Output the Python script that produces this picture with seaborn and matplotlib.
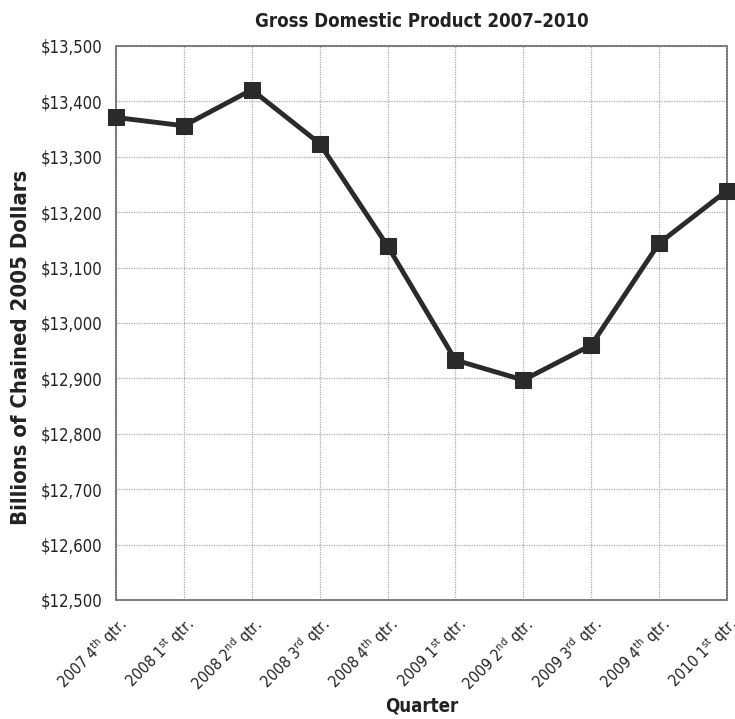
import matplotlib
matplotlib.use("Agg")
import matplotlib.pyplot as plt
from matplotlib import font_manager as fm
from matplotlib import transforms as mtrans
import seaborn as sns
import pandas as pd
from matplotlib.ticker import FuncFormatter

quarters = ["2007 4th", "2008 1st", "2008 2nd", "2008 3rd", "2008 4th",
            "2009 1st", "2009 2nd", "2009 3rd", "2009 4th", "2010 1st"]
gdp = [13371, 13356, 13421, 13324, 13139, 12933, 12897, 12960, 13144, 13239]
tick_labels = [r"2007 4$^{\mathrm{th}}$ qtr.", r"2008 1$^{\mathrm{st}}$ qtr.",
               r"2008 2$^{\mathrm{nd}}$ qtr.", r"2008 3$^{\mathrm{rd}}$ qtr.",
               r"2008 4$^{\mathrm{th}}$ qtr.", r"2009 1$^{\mathrm{st}}$ qtr.",
               r"2009 2$^{\mathrm{nd}}$ qtr.", r"2009 3$^{\mathrm{rd}}$ qtr.",
               r"2009 4$^{\mathrm{th}}$ qtr.", r"2010 1$^{\mathrm{st}}$ qtr."]
y_ticks = list(range(12500, 13501, 100))

sns.set_style("white")

# choose a condensed face if one is installed
names = {f.name for f in fm.fontManager.ttflist}
condensed_dejavu = any(f.name == "DejaVu Sans" and f.stretch == "condensed" for f in fm.fontManager.ttflist)
stretch = "normal"
if "Liberation Sans Narrow" in names:
    fam = "Liberation Sans Narrow"
    size_scale = 1.08
elif condensed_dejavu:
    fam = "DejaVu Sans"
    stretch = "condensed"
    size_scale = 1.0
else:
    fam = "Liberation Sans"
    size_scale = 0.98
plt.rcParams['font.family'] = [fam, 'DejaVu Sans']
plt.rcParams['font.stretch'] = stretch
plt.rcParams['mathtext.fontset'] = 'custom'
plt.rcParams['mathtext.rm'] = fam

df = pd.DataFrame({"idx": range(len(quarters)), "gdp": gdp})

fig = plt.figure(figsize=(7.35, 7.19), dpi=100)
ax = fig.add_axes([116/735, 119/719, (727-116)/735, (600-46)/719])

sns.lineplot(data=df, x="idx", y="gdp", ax=ax, color="#2a2a2a", linewidth=3.5,
             marker="s", markersize=12, markeredgecolor="#2a2a2a", clip_on=False, zorder=5)

ax.set_xlim(0, len(quarters) - 1)
ax.set_ylim(12500, 13500)
ax.set_xticks(range(len(quarters)))
ax.set_xticklabels(tick_labels, rotation=45, ha="right", rotation_mode="anchor",
                   fontsize=11.3 * size_scale)
shift = mtrans.ScaledTranslation(-8 / 100, 0, fig.dpi_scale_trans)
for lab in ax.get_xticklabels():
    lab.set_transform(lab.get_transform() + shift)
ax.set_yticks(y_ticks)
ax.yaxis.set_major_formatter(FuncFormatter(lambda v, p: f"${int(v):,}"))
ax.tick_params(axis="y", labelsize=12 * size_scale, length=0, pad=10, labelcolor="#222222")
ax.tick_params(axis="x", length=0, pad=10, labelcolor="#222222")
ax.grid(True, linestyle=(0, (1, 1)), color="#aaaaaa", linewidth=0.9)
for s in ax.spines.values():
    s.set_color("#777777")
    s.set_linewidth(1.2)
    s.set_linestyle((0, (1, 0.6)))

ax.set_title("Gross Domestic Product 2007\u20132010", fontsize=13.4 * size_scale,
             fontweight="bold", pad=14, color="#222222")
ax.set_xlabel("Quarter", fontsize=13.4 * size_scale, fontweight="bold", color="#222222")
ax.xaxis.set_label_coords(0.5, -(697 - 600) / 554)
ax.set_ylabel("Billions of Chained 2005 Dollars", fontsize=15.8 * size_scale,
              fontweight="bold", color="#222222")
ax.yaxis.set_label_coords(-(116 - 31) / 611, 0.455)

fig.savefig("out.png", dpi=100)
